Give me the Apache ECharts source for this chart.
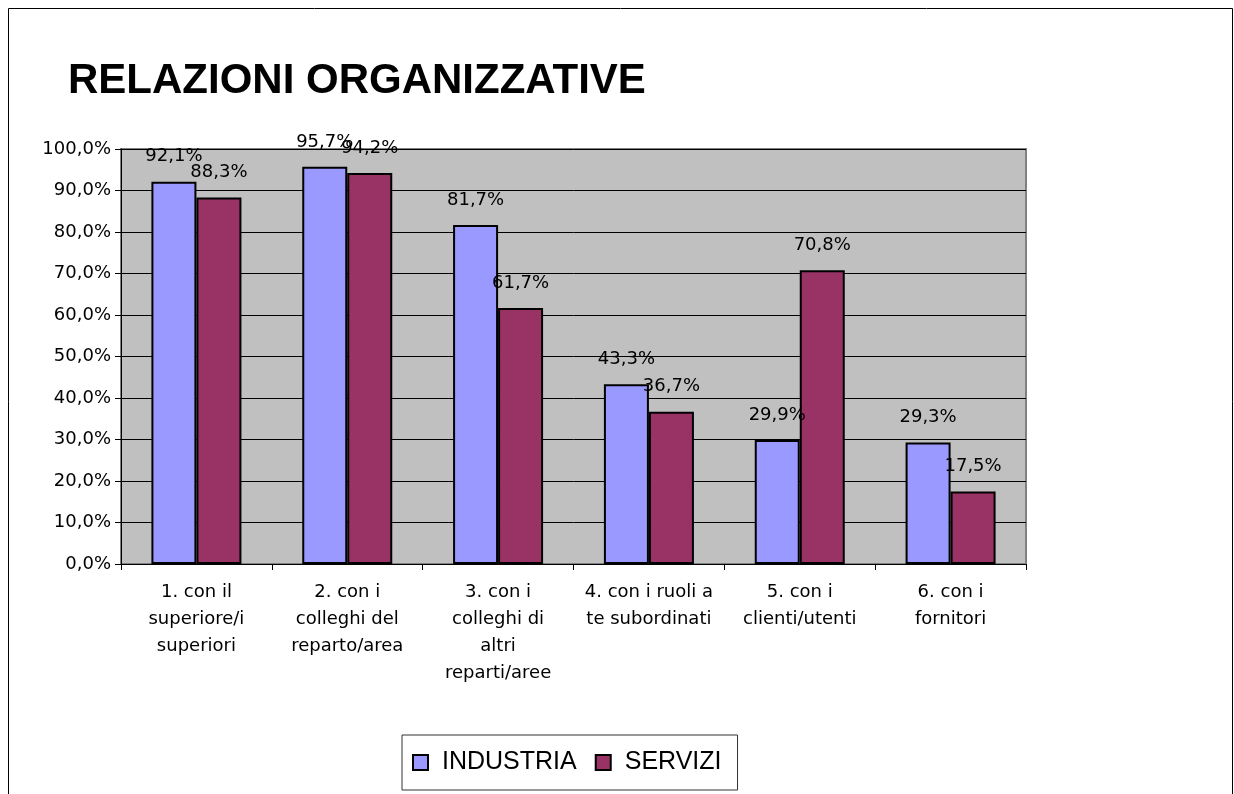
<!DOCTYPE html>
<html>
<head>
<meta charset="utf-8">
<script src="https://cdn.jsdelivr.net/npm/echarts@6/dist/echarts.min.js"></script>
<style>
  html, body { margin: 0; padding: 0; background: #fff; }
  #chart { width: 1234px; height: 794px; }
</style>
</head>
<body>
<div id="chart"></div>
<script>
// dati del grafico
const categories = [
    '1. con il\nsuperiore/i\nsuperiori',
    '2. con i\ncolleghi del\nreparto/area',
    '3. con i\ncolleghi di\naltri\nreparti/aree',
    '4. con i ruoli a\nte subordinati',
    '5. con i\nclienti/utenti',
    '6. con i\nfornitori'
];
const industria = [92.1, 95.7, 81.7, 43.3, 29.9, 29.3];
const servizi = [88.3, 94.2, 61.7, 36.7, 70.8, 17.5];
const seriesNames = ['INDUSTRIA', 'SERVIZI'];

const fmt = v => v.toFixed(1).replace('.', ',') + '%';
const titleFont = 'Liberation Sans, Arial, sans-serif';
const font = 'DejaVu Sans, sans-serif';

const chart = echarts.init(document.getElementById('chart'));

function barSerie(name, data, color) {
    return {
        name: name,
        type: 'bar',
        data: data,
        barWidth: 45,
        barGap: '0%',
        itemStyle: { color: color, borderColor: '#000', borderWidth: 2 },
        label: {
            show: true,
            position: 'top',
            distance: 16,
            color: '#000',
            fontFamily: font,
            fontSize: 18,
            formatter: p => fmt(p.value)
        }
    };
}

chart.setOption({
    animation: false,
    title: {
        text: 'RELAZIONI ORGANIZZATIVE',
        left: 63,
        top: 55,
        textStyle: { fontFamily: titleFont, fontSize: 42, fontWeight: 'bold', color: '#000' }
    },
    legend: {
        left: 402,
        top: 735,
        icon: 'rect',
        itemWidth: 15,
        itemHeight: 15,
        itemGap: 18,
        padding: [15, 16, 15, 10],
        borderColor: '#333',
        borderWidth: 1,
        textStyle: { fontFamily: titleFont, fontSize: 25, color: '#000', padding: [0, 0, 0, 9] },
        itemStyle: { borderColor: '#000', borderWidth: 2 },
        data: seriesNames
    },
    graphic: [{
        type: 'rect',
        shape: { x: 8.5, y: 8.5, width: 1224, height: 800 },
        style: { fill: 'none', stroke: '#000', lineWidth: 1 },
        silent: true
    }],
    grid: {
        left: 121,
        top: 149,
        width: 905,
        height: 415,
        show: true,
        backgroundColor: '#C0C0C0',
        borderColor: '#808080',
        borderWidth: 2
    },
    xAxis: {
        type: 'category',
        data: categories,
        axisLine: { lineStyle: { color: '#000', width: 1 } },
        axisTick: { show: true, alignWithLabel: false, length: 6, lineStyle: { color: '#000' } },
        axisLabel: {
            interval: 0,
            margin: 15,
            lineHeight: 27,
            color: '#000',
            fontFamily: font,
            fontSize: 18
        }
    },
    yAxis: {
        type: 'value',
        min: 0,
        max: 100,
        interval: 10,
        axisLine: { show: true, lineStyle: { color: '#000', width: 1 } },
        axisTick: { show: true, length: 6, lineStyle: { color: '#000' } },
        axisLabel: {
            margin: 10,
            color: '#000',
            fontFamily: font,
            fontSize: 18,
            formatter: v => fmt(v)
        },
        splitLine: { show: true, lineStyle: { color: '#000', width: 1 } }
    },
    series: [
        barSerie(seriesNames[0], industria, '#9999FF'),
        barSerie(seriesNames[1], servizi, '#993366')
    ]
});
</script>
</body>
</html>
